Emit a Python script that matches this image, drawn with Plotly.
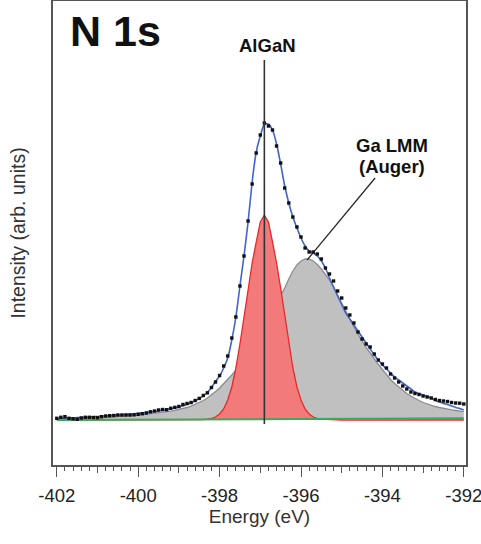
import plotly.graph_objects as go

# ---- data ----
energy = [
    -402.0, -401.9, -401.8, -401.7, -401.6, -401.5, -401.4, -401.3, -401.2, -401.1,
    -401.0, -400.9, -400.8, -400.7, -400.6, -400.5, -400.4, -400.3, -400.2, -400.1,
    -400.0, -399.9, -399.8, -399.7, -399.6, -399.5, -399.4, -399.3, -399.2, -399.1,
    -399.0, -398.9, -398.8, -398.7, -398.6, -398.5, -398.4, -398.3, -398.2, -398.1,
    -398.0, -397.9, -397.8, -397.7, -397.6, -397.5, -397.4, -397.3, -397.2, -397.1,
    -397.0, -396.9, -396.8, -396.7, -396.6, -396.5, -396.4, -396.3, -396.2, -396.1,
    -396.0, -395.9, -395.8, -395.7, -395.6, -395.5, -395.4, -395.3, -395.2, -395.1,
    -395.0, -394.9, -394.8, -394.7, -394.6, -394.5, -394.4, -394.3, -394.2, -394.1,
    -394.0, -393.9, -393.8, -393.7, -393.6, -393.5, -393.4, -393.3, -393.2, -393.1,
    -393.0, -392.9, -392.8, -392.7, -392.6, -392.5, -392.4, -392.3, -392.2, -392.1,
    -392.0,
]

measured = [
    1.7, 2.7, 3.3, 1.7, 1.2, 0.7, 2.0, 2.7, 2.7, 2.5,
    2.3, 3.3, 4.0, 4.3, 4.5, 5.0, 5.0, 5.0, 5.0, 5.2,
    5.7, 6.3, 7.0, 8.2, 9.0, 10.0, 10.5, 10.3, 11.7, 12.6,
    13.5, 15.5, 16.5, 17.5, 19.5, 21.6, 24.5, 27.2, 32.5, 38.0,
    44.5, 54.0, 64.0, 82.0, 103.0, 134.0, 164.0, 199.0, 236.0, 267.0,
    285.0, 297.0, 294.0, 290.0, 274.0, 257.0, 232.0, 217.0, 203.0, 193.0,
    183.0, 172.0, 168.0, 168.0, 166.0, 161.0, 152.0, 146.0, 139.0, 129.0,
    122.0, 112.0, 105.0, 97.0, 88.0, 81.0, 76.0, 73.0, 66.0, 60.0,
    56.0, 52.0, 46.0, 42.0, 38.0, 34.0, 31.0, 28.0, 26.5, 25.5,
    24.0, 23.0, 22.0, 20.5, 19.5, 19.0, 18.5, 17.5, 17.0, 16.8,
    16.0,
]

envelope = [
    1.7, 1.8, 1.9, 2.0, 2.2, 2.4, 2.6, 2.8, 3.0, 3.2,
    3.5, 3.8, 4.1, 4.4, 4.7, 5.0, 5.3, 5.6, 5.9, 6.2,
    6.6, 7.0, 7.5, 8.0, 8.5, 9.1, 9.8, 10.6, 11.4, 12.2,
    13.1, 14.2, 15.5, 17.3, 19.3, 21.5, 24.2, 27.5, 32.5, 38.5,
    44.0, 52.0, 62.0, 80.0, 103.0, 134.0, 164.0, 198.0, 238.0, 268.0,
    284.0, 296.0, 296.0, 290.0, 276.0, 256.0, 234.0, 217.0, 203.0, 192.0,
    182.0, 174.0, 169.0, 167.0, 164.0, 159.0, 152.0, 142.0, 133.0, 124.0,
    115.5, 107.0, 101.0, 95.0, 89.0, 83.0, 77.0, 71.0, 65.0, 60.0,
    55.0, 51.0, 47.0, 43.0, 40.0, 37.0, 34.0, 31.0, 28.0, 26.5,
    25.0, 23.5, 22.0, 19.5, 18.0, 16.5, 15.5, 14.0, 12.5, 11.5,
    10.0,
]

ga_lmm = [
    0.8, 0.9, 1.0, 1.1, 1.2, 1.3, 1.4, 1.6, 1.8, 2.0,
    2.2, 2.4, 2.6, 2.9, 3.1, 3.4, 3.7, 4.0, 4.3, 4.6,
    5.0, 5.4, 5.8, 6.2, 6.6, 7.0, 7.6, 8.2, 8.9, 9.7,
    10.5, 11.5, 12.5, 13.8, 15.5, 17.5, 19.5, 22.0, 25.0, 28.5,
    32.0, 36.0, 40.5, 45.0, 49.5, 54.0, 59.5, 65.5, 73.0, 81.0,
    89.0, 96.0, 103.0, 110.0, 117.0, 124.0, 132.0, 141.0, 149.0, 155.0,
    159.0, 161.0, 161.0, 159.0, 155.5, 151.0, 146.0, 140.0, 133.0, 125.0,
    116.0, 109.0, 101.0, 93.0, 86.0, 79.0, 72.5, 67.0, 61.0, 55.5,
    50.5, 45.0, 40.5, 36.5, 33.0, 29.5, 26.5, 24.0, 21.5, 19.5,
    17.5, 16.0, 14.5, 13.5, 12.5, 11.5, 10.8, 10.1, 9.5, 8.9,
    8.3,
]

algan = [
    0, 0, 0, 0, 0, 0, 0, 0, 0, 0,
    0, 0, 0, 0, 0, 0, 0, 0, 0, 0,
    0, 0, 0, 0, 0, 0, 0, 0, 0, 0,
    0, 0, 0, 0, 0, 0.3, 0.5, 0.8, 1.5, 3.0,
    6.0, 11.0, 20.0, 33.0, 52.0, 76.0, 104.0, 132.0, 157.0, 178.0,
    198.0, 205.0, 198.0, 178.0, 157.0, 132.0, 104.0, 76.0, 52.0, 33.0,
    20.0, 11.0, 6.0, 3.0, 1.5, 0.8, 0.5, 0.3, 0, 0,
    0, 0, 0, 0, 0, 0, 0, 0, 0, 0,
    0, 0, 0, 0, 0, 0, 0, 0, 0, 0,
    0, 0, 0, 0, 0, 0, 0, 0, 0, 0,
    0,
]

baseline_energy = [-402.0, -392.0]
baseline = [0.0, 1.7]

major_ticks = [-402, -400, -398, -396, -394, -392]
major_labels = ["-402", "-400", "-398", "-396", "-394", "-392"]
mid_ticks = [-401, -399, -397, -395, -393]

algan_peak = -396.9
algan_line_bottom, algan_line_top = -4, 360
auger_pointer = dict(x0=-395.85, y0=160, x1=-394.18, y1=242)

FONT = "Liberation Sans, Arial, sans-serif"
AX = "#555555"

fig = go.Figure()

fig.add_trace(go.Scatter(
    x=energy, y=ga_lmm, mode="lines", fill="tozeroy",
    fillcolor="rgb(192,192,192)", line=dict(color="rgb(140,140,140)", width=1.3),
    hoverinfo="skip", showlegend=False))
fig.add_trace(go.Scatter(
    x=energy, y=algan, mode="lines", fill="tozeroy",
    fillcolor="rgb(242,122,122)", line=dict(color="rgb(235,40,40)", width=1.3),
    hoverinfo="skip", showlegend=False))
fig.add_trace(go.Scatter(
    x=baseline_energy, y=baseline, mode="lines",
    line=dict(color="rgb(60,170,90)", width=2),
    hoverinfo="skip", showlegend=False))
fig.add_trace(go.Scatter(
    x=energy, y=envelope, mode="lines",
    line=dict(color="rgb(65,100,205)", width=1.6, shape="spline", smoothing=0.5),
    hoverinfo="skip", showlegend=False))
fig.add_trace(go.Scatter(
    x=energy, y=measured, mode="markers",
    marker=dict(color="#111111", size=3.4, symbol="square"),
    hoverinfo="skip", showlegend=False))
# invisible trace to host the secondary (mid-tick) axis
fig.add_trace(go.Scatter(
    x=baseline_energy, y=baseline, mode="lines", xaxis="x2",
    line=dict(width=0), opacity=0, hoverinfo="skip", showlegend=False))

xr = [-402.093, -391.946]

fig.update_layout(
    width=481, height=544,
    margin=dict(l=53, r=15, t=1, b=79, autoexpand=False),
    paper_bgcolor="white", plot_bgcolor="white",
    font=dict(family=FONT, color="#222222"),
    xaxis=dict(
        range=xr, tickvals=major_ticks, ticktext=major_labels,
        ticks="outside", ticklen=10, tickwidth=1.2, tickcolor=AX,
        showline=True, linecolor=AX, linewidth=1.5, mirror=True,
        showgrid=False, zeroline=False, automargin=False,
        ticklabeloverflow="allow", ticklabelstandoff=3,
        tickfont=dict(size=18.5, color="#222222", family=FONT),
        minor=dict(tick0=-402, dtick=0.2, ticks="outside", ticklen=4,
                   tickwidth=1.2, tickcolor=AX, showgrid=False),
        title=dict(text="Energy (eV)", font=dict(size=19, color="#333333", family=FONT),
                   standoff=5),
    ),
    xaxis2=dict(
        range=xr, overlaying="x", anchor="y", side="bottom",
        tickvals=mid_ticks, ticks="outside", ticklen=7, tickwidth=1.2,
        tickcolor=AX, showticklabels=False, showline=False,
        showgrid=False, zeroline=False, automargin=False,
    ),
    yaxis=dict(
        range=[-45, 419], showticklabels=False, ticks="",
        showline=True, linecolor=AX, linewidth=1.5, mirror=True,
        showgrid=False, zeroline=False, automargin=False,
        title=dict(text="Intensity (arb. units)",
                   font=dict(size=19.5, color="#333333", family=FONT), standoff=20),
    ),
    shapes=[
        dict(type="line", xref="x", yref="y", x0=algan_peak, x1=algan_peak,
             y0=algan_line_bottom, y1=algan_line_top,
             line=dict(color="#333333", width=1.6), layer="above"),
        dict(type="line", xref="x", yref="y", **auger_pointer,
             line=dict(color="#222222", width=1.2), layer="above"),
    ],
    annotations=[
        dict(text="<b>N 1s</b>", xref="paper", yref="paper", x=0.036, y=0.935,
             xanchor="left", yanchor="middle", showarrow=False,
             font=dict(size=43, color="#111111", family=FONT)),
        dict(text="<b>AlGaN</b>", xref="x", yref="y", x=-396.83, y=375,
             xanchor="center", yanchor="middle", showarrow=False,
             font=dict(size=18.5, color="#111111", family=FONT)),
        dict(text="<b>Ga LMM</b>", xref="x", yref="y",
             x=-393.76, y=274.5, xanchor="center", yanchor="middle", showarrow=False,
             font=dict(size=18.5, color="#111111", family=FONT)),
        dict(text="<b>(Auger)</b>", xref="x", yref="y",
             x=-393.76, y=254, xanchor="center", yanchor="middle", showarrow=False,
             font=dict(size=18.5, color="#111111", family=FONT)),
    ],
)

fig.write_html("out.html", config={"displayModeBar": False},
               post_script="document.body.style.margin='0px';")
